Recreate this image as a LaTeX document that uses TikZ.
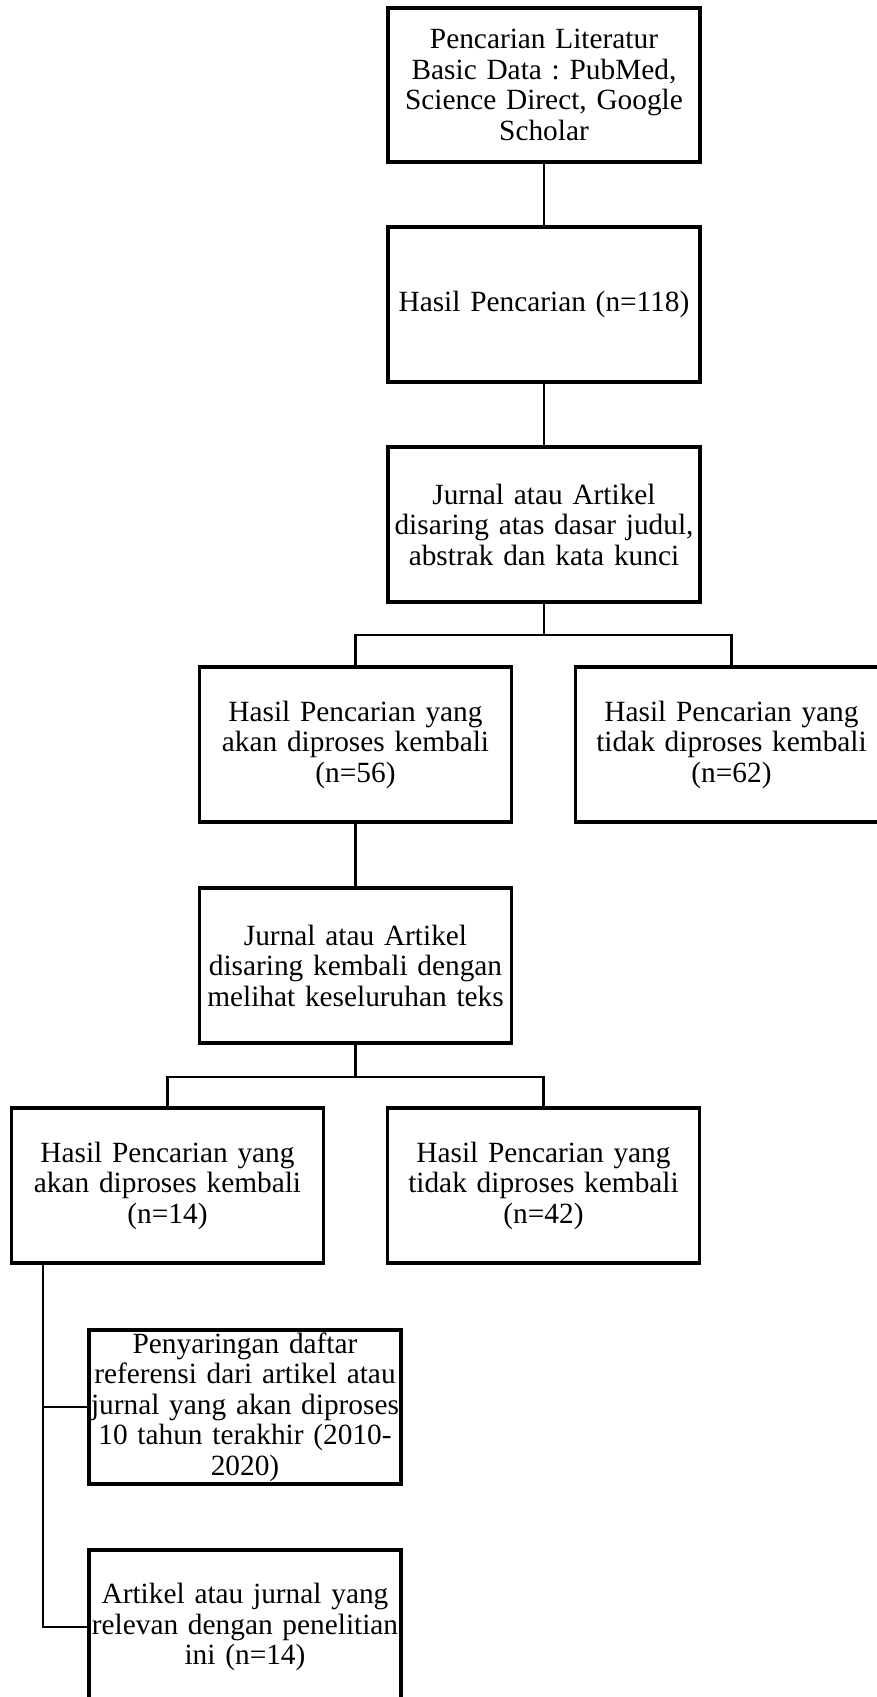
\documentclass[tikz,border=0pt]{standalone}
\usepackage{fontspec}
\setmainfont{Liberation Serif}
\frenchspacing
\begin{document}
\begin{tikzpicture}[x=0.75pt,y=-0.75pt,
  flowbox/.style={draw=black, line width=2.9pt, fill=white, inner sep=0pt,
    minimum width=234pt, minimum height=116pt, text width=232pt, align=center,
    font=\frenchspacing\fontsize{22}{22.9}\selectfont},
  link/.style={draw=black, line width=2pt}]
\useasboundingbox (0,0) rectangle (877,1697);
\fill[white] (0,0) rectangle (877,1697);

\node[flowbox] (b1) at (544,85) {Pencarian Literatur\\Basic Data : PubMed,\\Science Direct, Google\\Scholar};
\node[flowbox] (b2) at (544,304.5) {Hasil Pencarian (n=118)};
\node[flowbox] (b3) at (544,524.5) {Jurnal atau Artikel\\disaring atas dasar judul,\\abstrak dan kata kunci};
\node[flowbox] (b4) at (355.5,744.5) {Hasil Pencarian yang\\akan diproses kembali\\(n=56)};
\node[flowbox] (b5) at (731.5,744.5) {Hasil Pencarian yang\\tidak diproses kembali\\(n=62)};
\node[flowbox] (b6) at (355.5,965.5) {Jurnal atau Artikel\\disaring kembali dengan\\melihat keseluruhan teks};
\node[flowbox] (b7) at (167.5,1185.5) {Hasil Pencarian yang\\akan diproses kembali\\(n=14)};
\node[flowbox] (b8) at (543.5,1185.5) {Hasil Pencarian yang\\tidak diproses kembali\\(n=42)};
\node[flowbox] (b9) at (245,1407) {Penyaringan daftar\\referensi dari artikel atau\\jurnal yang akan diproses\\10 tahun terakhir (2010-\\2020)};
\node[flowbox] (b10) at (245,1627) {Artikel atau jurnal yang\\relevan dengan penelitian\\ini (n=14)};

\coordinate (j1) at (544,635);
\coordinate (j2) at (355.5,1077);
\coordinate (trunk) at (43,1627);

\draw[link] (b1.south) -- (b2.north);
\draw[link] (b2.south) -- (b3.north);
\draw[link] (b3.south) -- (j1);
\draw[link] (b4.north) |- (j1) -| (b5.north);
\draw[link] (b4.south) -- (b6.north);
\draw[link] (b6.south) -- (j2);
\draw[link] (b7.north) |- (j2) -| (b8.north);
\draw[link] (b7.south -| trunk) |- (b10.west);
\draw[link] (trunk |- b9.west) -- (b9.west);
\end{tikzpicture}
\end{document}
